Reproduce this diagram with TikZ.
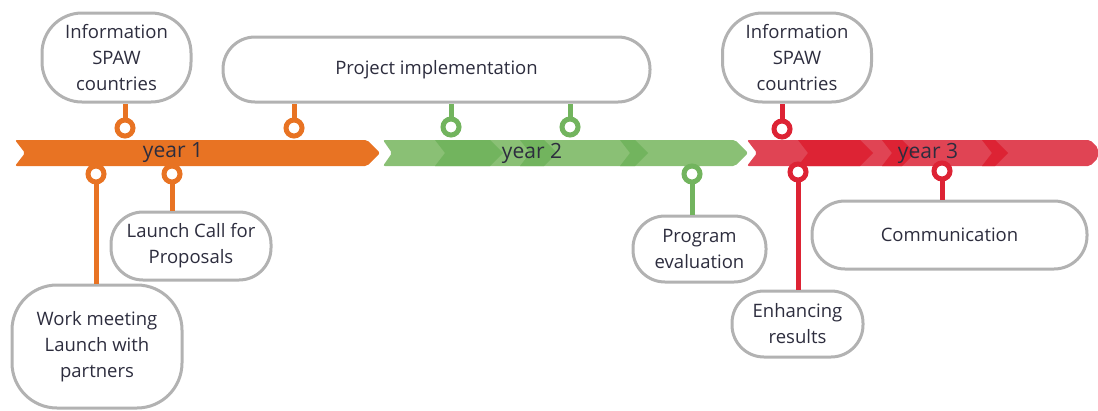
\documentclass[tikz,border=0pt]{standalone}
\usepackage{fontspec}
\setmainfont{Open Sans}
\definecolor{orng}{RGB}{232,115,35}
\definecolor{grnL}{RGB}{138,192,117}
\definecolor{grnD}{RGB}{114,180,94}
\definecolor{redL}{RGB}{224,68,84}
\definecolor{redD}{RGB}{221,35,52}
\definecolor{bub}{RGB}{178,178,178}
\definecolor{txt}{RGB}{45,45,62}
\begin{document}
\begin{tikzpicture}[x=1pt,y=-1pt,
  bubble/.style={draw=bub,line width=3pt,fill=white,inner sep=0pt,align=center,
    text=txt,font=\fontsize{18.5}{26}\selectfont},
  pin/.style={circle,draw=#1,fill=white,line width=5pt,minimum size=16pt,inner sep=0pt},
  stem/.style={draw=#1,line width=5pt},
  yearlbl/.style={text=txt,font=\fontsize{21}{24}\selectfont,inner sep=0pt}]
\useasboundingbox (0,0) rectangle (1098,410);
% bands
\fill[orng,rounded corners=2pt] (15,140) -- (367,140) -- (380,153) -- (367,166) -- (15,166) -- (25,153) -- cycle;
\fill[grnL,rounded corners=2pt] (383,140) -- (735,140) -- (748,153) -- (735,166) -- (383,166) -- (392,153) -- cycle;
\fill[redL,rounded corners=2pt] (747,140) -- (1090,140) -- (1098,148) -- (1098,158) -- (1090,166) -- (747,166) -- (757,153) -- cycle;
% darker chevrons
\foreach \a/\b/\c in {435/503/grnD,520/557/grnD,620/648/grnD,798/873/redD,882/915/redD,982/1008/redD}{
  \fill[\c] (\a,140) -- (\b-13,140) -- (\b,153) -- (\b-13,166) -- (\a,166) -- (\a+10,153) -- cycle;
}
% year labels
\node[yearlbl] (y1) at (173,153) {year 1};
\node[yearlbl] (y2) at (532,153) {year 2};
\node[yearlbl] (y3) at (928,153) {year 3};
% bubbles
\node[bubble,rounded corners=40pt,minimum width=149pt,minimum height=89pt] (info1) at (116.5,57.5) {Information\\SPAW\\countries};
\node[bubble,rounded corners=32pt,minimum width=427pt,minimum height=65pt] (proj) at (436.5,69.5) {Project implementation};
\node[bubble,rounded corners=40pt,minimum width=149pt,minimum height=89pt] (info2) at (797,57.5) {Information\\SPAW\\countries};
\node[bubble,rounded corners=32pt,minimum width=160pt,minimum height=68pt] (launch) at (191,246) {Launch Call for\\Proposals};
\node[bubble,rounded corners=45pt,minimum width=170pt,minimum height=123pt] (work) at (97,346.5) {Work meeting\\Launch with\\partners};
\node[bubble,rounded corners=32pt,minimum width=133pt,minimum height=66pt] (prog) at (699.5,249) {Program\\evaluation};
\node[bubble,rounded corners=32pt,minimum width=131pt,minimum height=66pt] (enh) at (797.5,324) {Enhancing\\results};
\node[bubble,rounded corners=33pt,minimum width=275pt,minimum height=68pt] (comm) at (949.5,235) {Communication};
% pins
\coordinate (o1) at (125,128);
\coordinate (o2) at (294,128);
\coordinate (o3) at (96,174);
\coordinate (o4) at (172,174);
\coordinate (g1) at (451,127);
\coordinate (g2) at (570,127);
\coordinate (g3) at (692,174);
\coordinate (r1) at (782,129);
\coordinate (r2) at (798,172);
\coordinate (r3) at (942,171);
\draw[stem=orng] (o1) -- (o1 |- info1.south);
\draw[stem=orng] (o2) -- (o2 |- proj.south);
\draw[stem=orng] (o3) -- (o3 |- work.north);
\draw[stem=orng] (o4) -- (o4 |- launch.north);
\draw[stem=grnD] (g1) -- (g1 |- proj.south);
\draw[stem=grnD] (g2) -- (g2 |- proj.south);
\draw[stem=grnD] (g3) -- (g3 |- prog.north);
\draw[stem=redD] (r1) -- (r1 |- info2.south);
\draw[stem=redD] (r2) -- (r2 |- enh.north);
\draw[stem=redD] (r3) -- (r3 |- comm.north);
\foreach \p/\c in {o1/orng,o2/orng,o3/orng,o4/orng,g1/grnD,g2/grnD,g3/grnD,r1/redD,r2/redD,r3/redD}{
  \node[pin=\c] (\p pin) at (\p) {};
}
\end{tikzpicture}
\end{document}
